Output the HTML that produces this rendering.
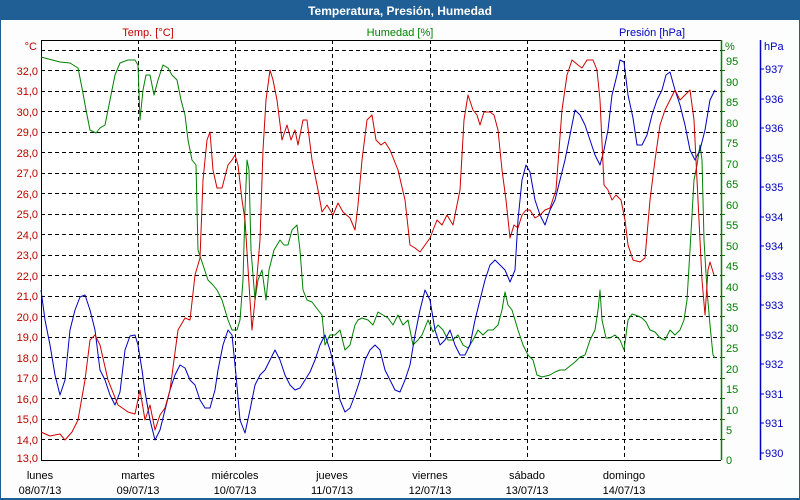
<!DOCTYPE html>
<html><head><meta charset="utf-8"><style>
html,body{margin:0;padding:0;background:#fff}
svg{display:block;font-family:"Liberation Sans","DejaVu Sans",sans-serif}
</style></head><body>
<svg width="800" height="500" viewBox="0 0 800 500" xmlns="http://www.w3.org/2000/svg">
<rect x="0" y="0" width="800" height="500" fill="#1f5f96"/>
<rect x="1" y="20" width="798" height="478" fill="#fcfdfc"/>
<text x="400" y="15" text-anchor="middle" fill="#fff" font-size="12" font-weight="bold">Temperatura, Presión, Humedad</text>
<text x="148" y="36" text-anchor="middle" fill="#c00000" font-size="11">Temp. [°C]</text>
<text x="400" y="36" text-anchor="middle" fill="#008000" font-size="11">Humedad [%]</text>
<text x="652" y="36" text-anchor="middle" fill="#0000c0" font-size="11">Presión [hPa]</text>
<rect x="41" y="40" width="680" height="420" fill="#fff"/>
<g stroke="#000" stroke-dasharray="4,3" stroke-width="1">
<line x1="41" x2="721" y1="50.5" y2="50.5"/><line x1="41" x2="721" y1="70.5" y2="70.5"/><line x1="41" x2="721" y1="91.5" y2="91.5"/><line x1="41" x2="721" y1="111.5" y2="111.5"/><line x1="41" x2="721" y1="132.5" y2="132.5"/><line x1="41" x2="721" y1="152.5" y2="152.5"/><line x1="41" x2="721" y1="173.5" y2="173.5"/><line x1="41" x2="721" y1="193.5" y2="193.5"/><line x1="41" x2="721" y1="214.5" y2="214.5"/><line x1="41" x2="721" y1="234.5" y2="234.5"/><line x1="41" x2="721" y1="255.5" y2="255.5"/><line x1="41" x2="721" y1="275.5" y2="275.5"/><line x1="41" x2="721" y1="296.5" y2="296.5"/><line x1="41" x2="721" y1="316.5" y2="316.5"/><line x1="41" x2="721" y1="337.5" y2="337.5"/><line x1="41" x2="721" y1="357.5" y2="357.5"/><line x1="41" x2="721" y1="378.5" y2="378.5"/><line x1="41" x2="721" y1="398.5" y2="398.5"/><line x1="41" x2="721" y1="419.5" y2="419.5"/><line x1="41" x2="721" y1="439.5" y2="439.5"/>
<line y1="40" y2="460" x1="138.5" x2="138.5"/><line y1="40" y2="460" x1="235.5" x2="235.5"/><line y1="40" y2="460" x1="332.5" x2="332.5"/><line y1="40" y2="460" x1="430.5" x2="430.5"/><line y1="40" y2="460" x1="527.5" x2="527.5"/><line y1="40" y2="460" x1="624.5" x2="624.5"/>
</g>
<line x1="41.5" y1="40" x2="41.5" y2="460" stroke="#000"/>
<line x1="41" y1="40.5" x2="721" y2="40.5" stroke="#000"/>
<line x1="41" y1="460.5" x2="721" y2="460.5" stroke="#000"/>
<line x1="721.5" y1="40" x2="721.5" y2="460" stroke="#008000" stroke-width="1.5"/>
<line x1="760.5" y1="40" x2="760.5" y2="460" stroke="#0000c0" stroke-width="1.5"/>
<g fill="#c00000" font-size="11" text-anchor="end">
<text x="37" y="50">°C</text>
<text x="38" y="75">32,0</text><text x="38" y="95">31,0</text><text x="38" y="116">30,0</text><text x="38" y="136">29,0</text><text x="38" y="157">28,0</text><text x="38" y="177">27,0</text><text x="38" y="198">26,0</text><text x="38" y="218">25,0</text><text x="38" y="239">24,0</text><text x="38" y="259">23,0</text><text x="38" y="280">22,0</text><text x="38" y="300">21,0</text><text x="38" y="321">20,0</text><text x="38" y="341">19,0</text><text x="38" y="362">18,0</text><text x="38" y="382">17,0</text><text x="38" y="403">16,0</text><text x="38" y="423">15,0</text><text x="38" y="444">14,0</text><text x="38" y="462">13,0</text>
</g>
<g stroke="#008000"><line x1="721" x2="725" y1="50.5" y2="50.5"/><line x1="721" x2="725" y1="70.5" y2="70.5"/><line x1="721" x2="725" y1="91.5" y2="91.5"/><line x1="721" x2="725" y1="111.5" y2="111.5"/><line x1="721" x2="725" y1="132.5" y2="132.5"/><line x1="721" x2="725" y1="152.5" y2="152.5"/><line x1="721" x2="725" y1="173.5" y2="173.5"/><line x1="721" x2="725" y1="193.5" y2="193.5"/><line x1="721" x2="725" y1="214.5" y2="214.5"/><line x1="721" x2="725" y1="234.5" y2="234.5"/><line x1="721" x2="725" y1="255.5" y2="255.5"/><line x1="721" x2="725" y1="275.5" y2="275.5"/><line x1="721" x2="725" y1="296.5" y2="296.5"/><line x1="721" x2="725" y1="316.5" y2="316.5"/><line x1="721" x2="725" y1="337.5" y2="337.5"/><line x1="721" x2="725" y1="357.5" y2="357.5"/><line x1="721" x2="725" y1="378.5" y2="378.5"/><line x1="721" x2="725" y1="398.5" y2="398.5"/><line x1="721" x2="725" y1="419.5" y2="419.5"/><line x1="721" x2="725" y1="439.5" y2="439.5"/></g>
<g fill="#008000" font-size="11">
<text x="725" y="50">%</text>
<text x="726" y="65">95</text><text x="726" y="86">90</text><text x="726" y="106">85</text><text x="726" y="127">80</text><text x="726" y="147">75</text><text x="726" y="168">70</text><text x="726" y="188">65</text><text x="726" y="209">60</text><text x="726" y="229">55</text><text x="726" y="250">50</text><text x="726" y="270">45</text><text x="726" y="291">40</text><text x="726" y="311">35</text><text x="726" y="332">30</text><text x="726" y="352">25</text><text x="726" y="373">20</text><text x="726" y="393">15</text><text x="726" y="414">10</text><text x="726" y="434">5</text><text x="726" y="464">0</text>
</g>
<g stroke="#0000c0"><line x1="760" x2="764" y1="69" y2="69"/><line x1="760" x2="764" y1="99" y2="99"/><line x1="760" x2="764" y1="128" y2="128"/><line x1="760" x2="764" y1="158" y2="158"/><line x1="760" x2="764" y1="187" y2="187"/><line x1="760" x2="764" y1="217" y2="217"/><line x1="760" x2="764" y1="246" y2="246"/><line x1="760" x2="764" y1="276" y2="276"/><line x1="760" x2="764" y1="305" y2="305"/><line x1="760" x2="764" y1="335" y2="335"/><line x1="760" x2="764" y1="364" y2="364"/><line x1="760" x2="764" y1="394" y2="394"/><line x1="760" x2="764" y1="423" y2="423"/><line x1="760" x2="764" y1="453" y2="453"/></g>
<g fill="#0000c0" font-size="11">
<text x="764" y="50">hPa</text>
<text x="765" y="73">937</text><text x="765" y="103">936</text><text x="765" y="132">936</text><text x="765" y="162">935</text><text x="765" y="191">935</text><text x="765" y="221">934</text><text x="765" y="250">934</text><text x="765" y="280">933</text><text x="765" y="309">933</text><text x="765" y="339">932</text><text x="765" y="368">932</text><text x="765" y="398">931</text><text x="765" y="427">931</text><text x="765" y="457">930</text>
</g>
<g font-size="11" fill="#000" text-anchor="middle">
<text x="40" y="479">lunes</text><text x="40" y="494">08/07/13</text>
<text x="138" y="479">martes</text><text x="138" y="494">09/07/13</text>
<text x="235" y="479">miércoles</text><text x="235" y="494">10/07/13</text>
<text x="332" y="479">jueves</text><text x="332" y="494">11/07/13</text>
<text x="430" y="479">viernes</text><text x="430" y="494">12/07/13</text>
<text x="527" y="479">sábado</text><text x="527" y="494">13/07/13</text>
<text x="624" y="479">domingo</text><text x="624" y="494">14/07/13</text>
</g>
<g fill="none" stroke-width="1" stroke-linejoin="round">
<polyline stroke="#008000" points="41,57 60,62 70,63 78,68 82,88 86,110 90,130 96,133 100,128 105,125 110,100 115,75 120,63 128,60 135,60 138,65 140,120 143,90 146,75 150,75 154,95 158,80 163,65 168,68 172,75 177,80 181,100 185,115 188,140 192,160 196,165 198,250 203,265 208,280 213,285 217,290 222,300 228,320 232,330 237,330 240,320 243,280 245,210 247,160 249,170 251,250 255,300 258,280 262,270 266,300 269,270 274,250 280,240 284,245 288,245 292,230 297,225 300,250 303,290 307,300 312,302 318,310 322,315 325,345 330,335 335,335 340,330 345,350 350,345 355,325 358,320 362,318 368,320 373,325 378,312 383,315 388,318 393,325 398,315 403,325 408,320 413,345 418,340 422,335 428,320 433,332 438,325 443,330 448,340 453,340 458,335 463,345 468,348 473,340 478,330 483,335 488,330 493,330 498,325 502,310 505,292 508,305 512,310 518,330 523,345 528,355 533,360 537,375 542,377 550,375 555,372 560,370 565,370 570,366 575,362 580,357 585,355 590,340 595,330 598,310 600,290 602,320 606,338 610,338 615,335 620,340 624,350 628,320 632,314 638,316 642,318 646,322 650,330 655,332 660,338 665,340 670,330 675,335 680,330 684,320 687,300 690,250 694,180 697,165 700,145 702,160 704,240 707,290 710,325 713,355 715,358"/>
<polyline stroke="#0000c0" points="41,290 45,320 50,345 55,375 60,395 65,380 70,330 75,310 80,297 85,295 90,310 95,330 100,370 105,380 110,395 115,405 120,392 125,350 130,336 135,335 138,345 142,370 145,392 150,420 155,440 160,430 165,410 170,390 175,375 180,365 185,368 190,380 195,385 200,400 205,408 210,408 215,390 218,370 223,345 228,330 232,335 236,375 240,420 245,433 250,410 255,385 260,375 265,370 270,360 275,350 280,360 285,375 290,385 295,390 300,388 305,380 310,372 315,360 320,345 325,335 330,350 335,370 340,400 345,412 350,408 355,395 360,380 365,360 370,350 375,345 380,350 385,370 390,380 395,390 400,392 405,380 410,365 415,335 420,310 425,290 430,300 435,330 440,345 445,340 450,330 455,345 460,355 465,355 470,345 475,320 480,300 485,280 490,265 495,260 500,265 505,270 510,282 515,270 518,220 522,180 526,165 530,172 535,200 540,215 545,225 550,210 555,200 560,180 565,160 570,135 575,110 580,115 585,125 590,140 595,155 600,165 604,150 608,130 612,95 617,75 620,60 624,62 628,95 633,118 637,145 642,145 647,135 652,115 657,100 662,90 666,75 670,72 675,90 680,105 685,125 690,150 695,160 700,150 705,130 710,100 715,90"/>
<polyline stroke="#d00000" points="41,432 50,436 60,434 65,440 72,432 78,420 85,380 90,340 95,335 100,345 108,380 118,405 128,412 135,414 140,390 145,420 150,405 155,430 160,415 165,408 170,390 178,330 185,318 190,320 195,275 200,258 203,180 207,140 210,132 213,170 217,188 222,188 228,165 232,160 235,155 238,165 242,200 245,220 250,300 252,330 255,300 260,240 263,150 266,100 270,70 273,80 277,100 282,140 287,125 291,140 295,130 298,145 303,120 307,120 312,160 318,190 322,212 327,205 333,215 338,203 343,212 350,218 355,230 358,205 362,160 367,120 372,115 376,140 381,145 385,142 390,150 398,170 405,200 410,245 415,248 420,252 425,245 430,238 437,220 442,225 447,215 453,225 460,190 464,120 468,95 473,110 477,115 480,125 484,112 490,112 494,115 498,130 502,170 506,200 510,238 514,225 518,228 522,215 526,210 530,210 535,218 540,215 545,210 550,208 556,190 562,110 567,75 572,60 578,65 582,68 587,60 593,60 597,70 600,100 604,185 608,190 612,200 616,195 621,200 625,220 628,245 633,260 640,262 645,258 650,200 655,160 660,125 665,110 670,100 675,90 680,100 685,95 690,90 694,120 698,200 702,280 705,315 708,270 710,262 714,275"/>
</g>
</svg>
</body></html>
